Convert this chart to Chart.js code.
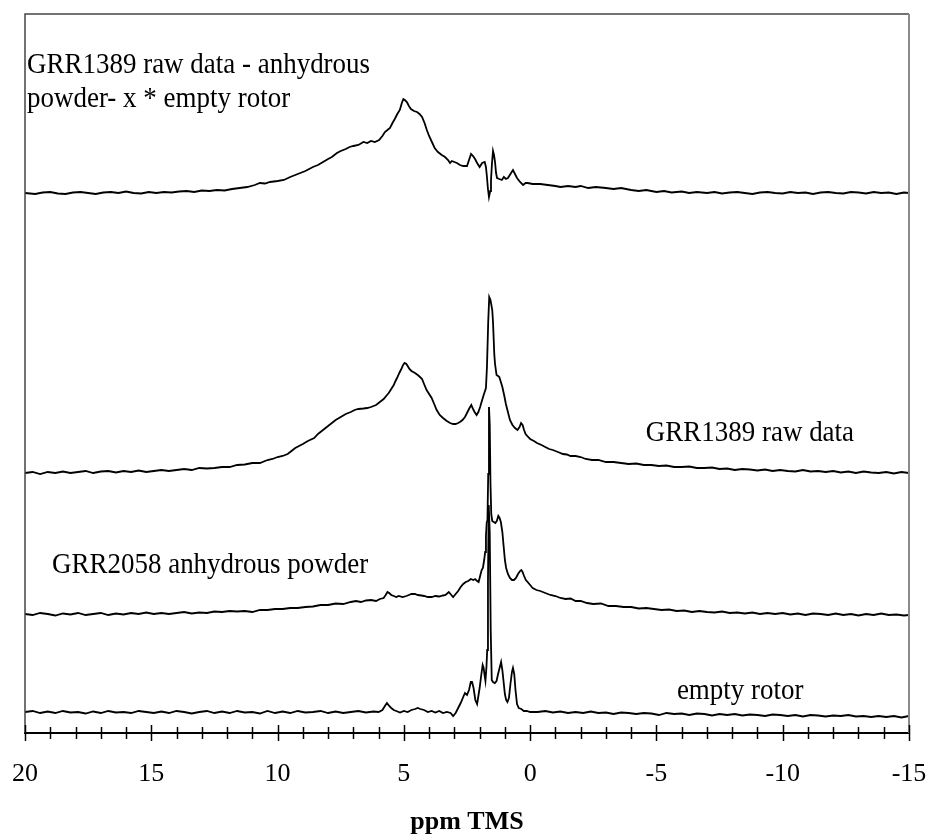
<!DOCTYPE html>
<html lang="en">
<head>
<meta charset="UTF-8">
<title>ppm TMS spectra</title>
<script src="https://cdn.jsdelivr.net/npm/chart.js@4.4.0/dist/chart.umd.min.js"></script>
<style>
  html, body { margin: 0; padding: 0; background: #fff; }
</style>
</head>
<body>
<canvas id="graph" width="929" height="840"></canvas>
<script>
// chemical shift range (ppm TMS), drawn high -> low
const ppmMin = -15;
const ppmMax = 20;
const ppmStep = 5;

const seriesNames = [
  'GRR1389 raw data - anhydrous powder- x * empty rotor',
  'GRR1389 raw data',
  'GRR2058 anhydrous powder',
  'empty rotor'
];

// vertical stacking offset of each trace (arbitrary intensity units)
const offsets = [540, 261, 119, 21];

// [ppm, intensity above own baseline]
const diffSpectrum = [
  [20,0],[19.6,-1],[19.3,0.5],[19,1],[18.7,-0.5],[18.4,-1],[18.1,0.5],[17.8,1],[17.5,0],[17.2,-1],[16.9,0.5],[16.6,1],
  [16.3,0],[16,1.5],[15.7,0],[15.4,-0.5],[15.1,1],[14.8,0],[14.5,1],[14.2,0.5],[13.9,1.5],[13.6,2],[13.3,1],[13,2.5],
  [12.7,2],[12.4,3],[12.1,2.5],[11.8,4],[11.5,5],[11.2,6],[10.9,8],[10.7,10],[10.5,9.5],[10.3,11],[10,12],[9.75,13],
  [9.5,16],[9.3,18],[9.1,20],[8.9,22],[8.6,26],[8.4,28],[8.2,31],[8,34],[7.85,36],[7.65,40],[7.5,42],[7.3,44],
  [7.15,46],[7,47],[6.8,48],[6.6,51],[6.45,50],[6.3,52],[6.15,51],[5.98,53],[5.85,57],[5.75,61],[5.65,63],[5.55,65],
  [5.45,70],[5.36,74],[5.26,79],[5.16,83],[5.08,90],[5.02,94],[4.96,93],[4.88,91],[4.8,87],[4.72,84],[4.6,82],[4.48,81],
  [4.38,79],[4.28,76],[4.18,70],[4.09,63],[4,57],[3.89,51],[3.78,45],[3.65,41],[3.5,38],[3.37,36],[3.25,33],[3.17,30],
  [3.1,32],[3,31],[2.9,30],[2.78,28],[2.65,27],[2.5,27],[2.42,33],[2.34,39],[2.26,37],[2.18,34],[2.1,30],[2,26],
  [1.9,30],[1.8,31],[1.75,26],[1.71,16],[1.67,4],[1.63,-4],[1.58,2],[1.55,13],[1.51,30],[1.47,42],[1.43,38],[1.39,31],
  [1.35,20],[1.31,15],[1.22,14],[1.12,13],[1.04,16],[0.96,14],[0.88,15],[0.78,19],[0.68,23],[0.6,19],[0.52,15],[0.4,11],
  [0.28,8],[0.18,10],[0.1,10],[-0.1,9],[-0.4,9],[-0.7,8],[-1,7],[-1.2,6],[-1.5,7],[-1.8,6],[-2,7],[-2.3,5],
  [-2.6,6],[-3,5],[-3.3,4],[-3.6,5],[-4,3],[-4.3,2],[-4.6,3],[-5,1],[-5.3,2],[-5.6,0.5],[-6,1.5],[-6.3,0],
  [-6.6,1],[-7,0],[-7.3,1],[-7.6,-0.5],[-7.9,0.5],[-8.2,1],[-8.5,0],[-8.8,-1],[-9.1,0.5],[-9.4,1],[-9.7,0],[-10,-0.5],
  [-10.3,1],[-10.6,0],[-10.9,0.5],[-11.2,-1],[-11.5,0.5],[-11.8,1],[-12.1,0],[-12.4,-0.5],[-12.7,1],[-13,0.5],[-13.3,-0.5],[-13.6,1],
  [-13.9,0],[-14.2,0.5],[-14.5,-1],[-14.8,0.5],[-15,0]
];

const rawSpectrum = [
  [20,-1],[19.7,0],[19.4,-2],[19.1,0],[18.8,-1],[18.5,0.5],[18.2,-1],[17.9,0],[17.6,1],[17.3,-1],[17,0.5],[16.7,1],
  [16.4,-0.5],[16.1,1],[15.8,0],[15.5,1.5],[15.2,0],[14.9,1],[14.6,2],[14.3,1],[14,2],[13.7,3],[13.4,2],[13.1,4],
  [12.8,3.5],[12.5,4],[12.2,5],[11.9,5],[11.6,7],[11.3,7.5],[11,9],[10.7,9],[10.4,12],[10.2,13],[10,15],[9.8,16],
  [9.6,18],[9.45,21],[9.3,24],[9.15,26],[9,28],[8.8,31],[8.55,34],[8.4,38],[8.2,42],[8,46],[7.85,49],[7.7,52],
  [7.5,55],[7.3,58],[7.1,60],[6.95,62],[6.8,63],[6.6,63.5],[6.45,64],[6.3,65],[6.2,66],[6.1,67],[6,69],[5.9,71],
  [5.8,73],[5.7,76],[5.6,79],[5.5,83],[5.4,87],[5.33,91],[5.27,94],[5.18,99],[5.1,103],[5.03,107],[4.97,109],[4.9,108],
  [4.85,106],[4.78,103],[4.7,101],[4.56,99],[4.45,97],[4.36,95],[4.28,93],[4.2,88],[4.1,82],[4,78],[3.9,74],[3.8,68],
  [3.7,62],[3.58,57],[3.45,54],[3.3,51],[3.17,49],[3.05,48],[2.95,48],[2.85,49],[2.78,50],[2.68,52],[2.58,55],[2.48,60],
  [2.4,64],[2.33,67],[2.26,63],[2.2,60],[2.12,57],[2.05,60],[1.98,65],[1.9,72],[1.84,77],[1.8,80],[1.75,84],[1.71,105],
  [1.66,150],[1.62,175],[1.57,172],[1.5,162],[1.47,150],[1.42,118],[1.39,108],[1.33,97],[1.27,96],[1.22,95],[1.16,90],[1.1,85],
  [1.03,77],[0.96,68],[0.9,62],[0.8,52],[0.7,47],[0.6,44],[0.5,42],[0.42,45],[0.36,49],[0.3,47],[0.24,42],[0.18,38],
  [0.08,35],[0,33],[-0.15,31],[-0.27,29],[-0.45,27],[-0.6,25],[-0.75,23],[-0.9,22],[-1.1,20],[-1.3,18],[-1.45,17.5],[-1.6,16],
  [-1.8,16],[-2,15],[-2.2,13],[-2.45,12],[-2.7,12],[-3,10],[-3.3,10],[-3.6,9],[-3.9,8],[-4.2,8.5],[-4.5,7],[-4.8,7],
  [-5.1,6],[-5.4,6.5],[-5.7,5],[-6,5],[-6.3,5.5],[-6.6,4],[-6.9,4],[-7.2,4.5],[-7.5,3],[-7.8,3.5],[-8.1,2],[-8.4,3],
  [-8.7,2.5],[-9,1.5],[-9.3,2.5],[-9.6,1],[-9.9,2],[-10.2,1],[-10.5,0.5],[-10.8,2],[-11.1,0.5],[-11.4,1],[-11.7,0],[-12,1],
  [-12.3,-0.5],[-12.6,0.5],[-12.9,-1],[-13.2,0.5],[-13.5,-0.5],[-13.8,-1],[-14.1,0],[-14.4,-1.5],[-14.7,0],[-15,-1]
];

const powderSpectrum = [
  [20,0],[19.7,-1],[19.4,1],[19.1,0],[18.8,-1.5],[18.5,0.5],[18.2,-0.5],[17.9,1],[17.6,-1],[17.3,0],[17,1],[16.7,-1],
  [16.4,0.5],[16.1,-0.5],[15.8,1],[15.5,0],[15.2,1.5],[14.9,0],[14.6,1],[14.3,0],[14,1],[13.7,2],[13.4,0.5],[13.1,1.5],
  [12.8,1],[12.5,2.5],[12.2,2],[11.9,3],[11.6,2.5],[11.3,3],[11,2],[10.7,4],[10.4,4],[10.1,5],[9.8,5],[9.5,6],
  [9.2,6],[8.9,7],[8.6,7.5],[8.3,9],[8,9],[7.7,10.5],[7.4,10],[7.1,12],[6.9,13],[6.7,12],[6.5,13.5],[6.3,14],
  [6.1,13],[5.95,15],[5.8,16],[5.72,19],[5.65,22],[5.58,21],[5.5,19],[5.4,18],[5.3,17],[5.2,18],[5.05,17],[4.9,18],
  [4.8,19],[4.7,20],[4.56,20],[4.45,19],[4.3,18.5],[4.2,18],[4.05,17],[3.9,17],[3.75,18],[3.6,17.5],[3.45,18.5],[3.35,19],
  [3.22,22],[3.12,19],[3.05,17],[2.95,20],[2.85,23],[2.75,27],[2.65,30],[2.55,32],[2.45,33],[2.35,35],[2.25,34],[2.18,35],
  [2.1,33],[2.04,32],[1.98,38],[1.92,44],[1.87,46],[1.82,54],[1.78,62],[1.75,78],[1.72,91],[1.69,94],[1.66,140],[1.63,207],
  [1.6,190],[1.57,130],[1.54,100],[1.5,93],[1.44,92],[1.38,91],[1.32,93],[1.26,98],[1.21,96],[1.16,92],[1.1,82],[1.05,68],
  [1,54],[0.95,46],[0.88,40],[0.8,36],[0.72,34],[0.64,34],[0.56,36],[0.48,40],[0.4,43],[0.35,44],[0.3,42],[0.24,38],
  [0.17,34],[0.1,32],[0,29],[-0.1,26],[-0.25,24],[-0.4,23],[-0.6,21],[-0.8,19],[-1,18],[-1.2,16],[-1.4,15],[-1.6,15.5],
  [-1.8,13],[-2,13],[-2.25,11],[-2.5,10],[-2.8,10.5],[-3.1,8],[-3.4,8],[-3.7,7],[-4,7],[-4.3,5.5],[-4.6,6],[-4.9,5],
  [-5.2,4],[-5.5,4.5],[-5.8,3],[-6.1,3.5],[-6.4,2],[-6.7,3],[-7,2],[-7.3,1.5],[-7.6,2.5],[-7.9,1],[-8.2,1.5],[-8.5,0.5],
  [-8.8,1.5],[-9.1,0],[-9.4,1],[-9.7,0],[-10,1],[-10.3,-0.5],[-10.6,0.5],[-10.9,-1],[-11.2,0.5],[-11.5,0],[-11.8,-1],[-12.1,0.5],
  [-12.4,-1],[-12.7,0],[-13,-1.5],[-13.3,0],[-13.6,-1],[-13.9,0.5],[-14.2,-1],[-14.5,-0.5],[-14.8,-1.5],[-15,-1]
];

const rotorSpectrum = [
  [20,0],[19.7,1],[19.4,-1],[19.1,0.5],[18.8,-1],[18.5,1],[18.2,-0.5],[17.9,0],[17.6,-1.5],[17.3,0.5],[17,-1],[16.7,1],
  [16.4,-0.5],[16.1,0],[15.8,-1],[15.5,1],[15.2,0],[14.9,-1],[14.6,0.5],[14.3,-1],[14,1],[13.7,0],[13.4,-1.5],[13.1,0],
  [12.8,1],[12.5,-1],[12.2,0.5],[11.9,-1],[11.6,1],[11.3,-0.5],[11,0],[10.7,-1.5],[10.4,1],[10.1,-1],[9.8,0.5],[9.5,-1],
  [9.2,1],[8.9,-0.5],[8.6,0],[8.3,1],[8,-1],[7.7,0.5],[7.4,-1],[7.1,0],[6.8,1],[6.5,-0.5],[6.2,0.5],[6,0],
  [5.85,2],[5.75,6],[5.67,9],[5.58,6],[5.5,4],[5.4,2],[5.3,1],[5.15,-0.5],[5,1],[4.85,0],[4.7,2],[4.55,3],
  [4.45,4],[4.35,3],[4.2,2],[4.05,0],[3.9,1],[3.75,-0.5],[3.6,1],[3.45,-1],[3.3,0],[3.15,-1],[3.05,-4],[2.95,-1],
  [2.85,4],[2.75,9],[2.65,15],[2.58,19],[2.5,17],[2.42,22],[2.35,30],[2.3,30],[2.24,24],[2.17,12],[2.1,8],[2.05,16],
  [2,24],[1.94,36],[1.88,47],[1.84,44],[1.8,36],[1.77,31],[1.73,45],[1.7,62],[1.67,130],[1.64,207],[1.6,180],[1.56,80],
  [1.52,32],[1.47,30],[1.4,29],[1.33,31],[1.27,38],[1.2,45],[1.15,50],[1.1,42],[1.05,30],[1,18],[0.95,12],[0.9,10],
  [0.84,14],[0.78,28],[0.72,40],[0.68,44],[0.63,38],[0.58,22],[0.52,8],[0.45,4],[0.35,3],[0.25,1],[0.13,1],[0,0],
  [-0.3,0],[-0.6,1],[-0.9,-0.5],[-1.2,0.5],[-1.5,-1],[-1.8,0],[-2.1,-1],[-2.4,0.5],[-2.7,-1],[-3,-0.5],[-3.3,-2],[-3.6,-0.5],
  [-3.9,-1],[-4.2,-2],[-4.5,-1],[-4.8,-1.5],[-5.1,-3],[-5.4,-1],[-5.7,-2],[-6,-1.5],[-6.3,-3],[-6.6,-1.5],[-6.9,-2],[-7.2,-3.5],
  [-7.5,-2],[-7.8,-3],[-8.1,-2],[-8.4,-3.5],[-8.7,-2.5],[-9,-3],[-9.3,-4],[-9.6,-2.5],[-9.9,-3],[-10.2,-4],[-10.5,-3],[-10.8,-4.5],
  [-11.1,-3],[-11.4,-3.5],[-11.7,-4.5],[-12,-3.5],[-12.3,-4],[-12.6,-3],[-12.9,-4.5],[-13.2,-4],[-13.5,-5],[-13.8,-4],[-14.1,-5],[-14.4,-4],
  [-14.7,-5.5],[-15,-4]
];

const spectra = [diffSpectrum, rawSpectrum, powderSpectrum, rotorSpectrum];

// annotation texts (one per line)
const annotationTexts = [
  'GRR1389 raw data - anhydrous',
  'powder- x * empty rotor',
  'GRR1389 raw data',
  'GRR2058 anhydrous powder',
  'empty rotor'
];

Chart.defaults.font.family = '"Liberation Serif", "Times New Roman", serif';
Chart.defaults.color = '#000';

const datasets = spectra.map((s, i) => ({
  label: seriesNames[i],
  data: s.map(p => ({x: p[0], y: p[1] + offsets[i]})),
  borderColor: '#000',
  borderWidth: 1.8,
  pointRadius: 0,
  tension: 0,
  fill: false
}));

// frame, crossing tick marks and in-plot text
const decor = {
  id: 'decor',
  afterDatasetsDraw(chart) {
    const {ctx, chartArea: a, scales: {x, y}} = chart;
    ctx.save();
    ctx.lineWidth = 1.5;
    ctx.strokeStyle = '#444';
    ctx.beginPath();
    ctx.moveTo(a.left, a.bottom);
    ctx.lineTo(a.left, a.top);
    ctx.lineTo(a.right, a.top);
    ctx.stroke();
    ctx.strokeStyle = '#8a8a8a';
    ctx.lineWidth = 2;
    ctx.beginPath();
    ctx.moveTo(a.right, a.top);
    ctx.lineTo(a.right, a.bottom);
    ctx.stroke();

    ctx.strokeStyle = '#000';
    ctx.lineWidth = 1.5;
    for (let v = ppmMin; v <= ppmMax; v++) {
      const px = Math.round(x.getPixelForValue(v)) + 0.5;
      const major = v % ppmStep === 0;
      ctx.beginPath();
      ctx.moveTo(px, a.bottom - (major ? 8 : 6));
      ctx.lineTo(px, a.bottom + (major ? 8 : 6));
      ctx.stroke();
    }

    // slightly condensed serif, like the original figure
    ctx.fillStyle = '#000';
    ctx.font = '29px "Liberation Serif", "Times New Roman", serif';
    ctx.textBaseline = 'alphabetic';
    const squeeze = 0.93;
    const anchors = [[19.92, 660], [19.92, 626], [-4.58, 292], [18.93, 160], [-5.81, 34]];
    annotationTexts.forEach((t, i) => {
      const px = x.getPixelForValue(anchors[i][0]);
      const py = y.getPixelForValue(anchors[i][1]);
      ctx.save();
      ctx.translate(px, py);
      ctx.scale(squeeze, 1);
      ctx.fillText(t, 0, 0);
      ctx.restore();
    });
    ctx.restore();
  }
};

new Chart(document.getElementById('graph'), {
  type: 'line',
  data: {datasets},
  options: {
    responsive: false,
    animation: false,
    layout: {padding: {left: 25, right: 20, top: 14, bottom: 0}},
    plugins: {legend: {display: false}, tooltip: {enabled: false}},
    scales: {
      x: {
        type: 'linear',
        reverse: true,
        min: ppmMin,
        max: ppmMax,
        ticks: {stepSize: ppmStep, font: {size: 26}, padding: 26, maxRotation: 0, autoSkip: false, color: '#000'},
        grid: {display: true, drawOnChartArea: false, drawTicks: false},
        border: {display: true, color: '#000', width: 2},
        title: {display: true, text: 'ppm TMS', color: '#000', font: {size: 26, weight: 'bold'}, padding: {top: 0, bottom: 2}},
        afterFit(scale) {
          scale.height = 107;
          scale.paddingLeft = 0;
          scale.paddingRight = 0;
        }
      },
      y: {
        display: false,
        min: 0,
        max: 719
      }
    }
  },
  plugins: [decor]
});
</script>
</body>
</html>
